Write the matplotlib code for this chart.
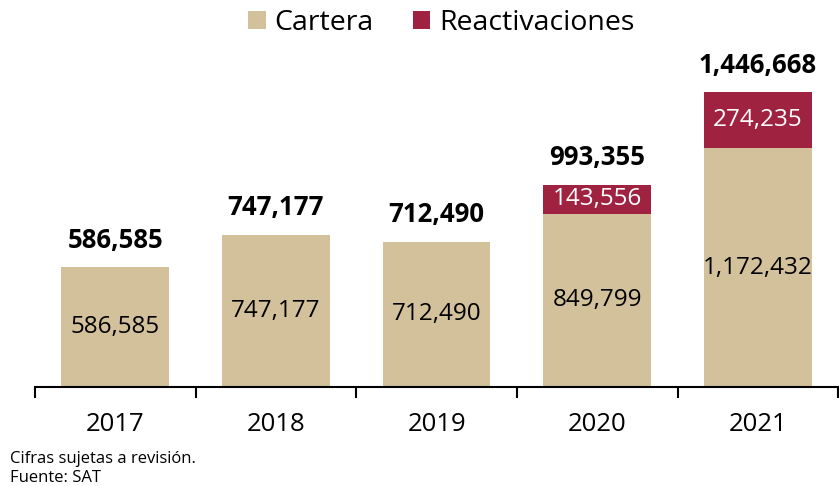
import matplotlib
matplotlib.use("Agg")
import matplotlib.pyplot as plt
import numpy as np
from matplotlib.patches import Patch

plt.rcParams['font.family'] = ['Open Sans', 'DejaVu Sans']

years = ["2017", "2018", "2019", "2020", "2021"]
cartera = [586585, 747177, 712490, 849799, 1172432]
reactivaciones = [0, 0, 0, 143556, 274235]
totals = [586585, 747177, 712490, 993355, 1446668]

TAN = "#D3C19B"
RED = "#9F2241"

fig = plt.figure(figsize=(8.39, 4.86), dpi=100)
ax = fig.add_axes([0.0417, 0.2037, 0.9573, 0.671])

x = np.arange(len(years))
w = 0.67
ax.bar(x, cartera, width=w, color=TAN)
ax.bar(x, reactivaciones, width=w, bottom=cartera, color=RED)

for i in range(len(years)):
    ax.text(x[i], cartera[i] / 2, f"{cartera[i]:,}", ha="center", va="center",
            fontsize=17.5, color="black")
    if reactivaciones[i]:
        ax.text(x[i], cartera[i] + reactivaciones[i] / 2, f"{reactivaciones[i]:,}",
                ha="center", va="center", fontsize=17.5, color="white")
    ax.text(x[i], totals[i] + 132000, f"{totals[i]:,}", ha="center", va="center",
            fontsize=18.5, fontweight="bold", color="black")

ax.set_xlim(-0.5, 4.5)
ax.set_ylim(0, 1.6e6)
for s in ["top", "right", "left"]:
    ax.spines[s].set_visible(False)
ax.spines["bottom"].set_linewidth(1.5)
ax.set_yticks([])
ax.set_xticks(x)
ax.set_xticklabels(years, fontsize=18.5)
ax.tick_params(axis="x", which="major", length=0, pad=18)
ax.set_xticks(np.arange(-0.5, 5, 1), minor=True)
ax.tick_params(axis="x", which="minor", length=8, width=1.5, direction="out")

legend = [Patch(facecolor=TAN, label="Cartera"), Patch(facecolor=RED, label="Reactivaciones")]
fig.legend(handles=legend, loc="upper center", bbox_to_anchor=(0.526, 1.035), ncol=2,
           frameon=False, fontsize=20.5, handlelength=0.6, handleheight=0.6,
           handletextpad=0.3, columnspacing=1.4)

fig.text(0.012, 0.056, "Cifras sujetas a revisión.", fontsize=12, va="center")
fig.text(0.012, 0.016, "Fuente: SAT", fontsize=12, va="center")

fig.savefig("out.png", dpi=100)
